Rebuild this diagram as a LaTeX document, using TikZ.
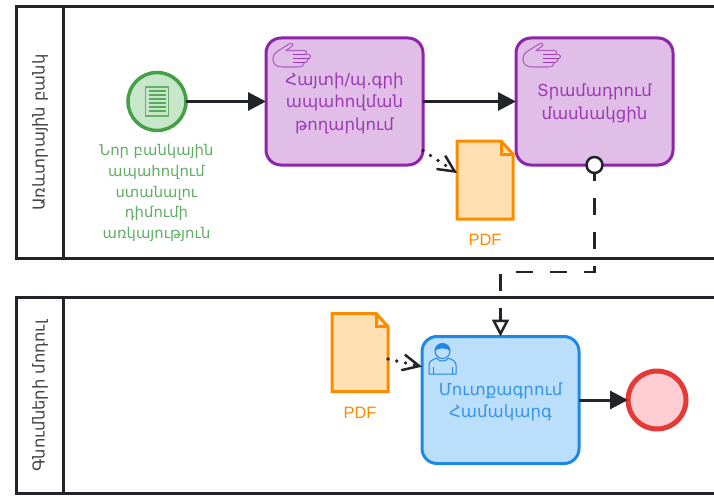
\documentclass[tikz,border=0pt]{standalone}
\usepackage{fontspec}
\setmainfont{DejaVu Sans}
\newfontfamily\latinfont{Liberation Sans}
\usetikzlibrary{arrows.meta}
\newcommand\firstlinegap{\rule{0pt}{16pt}}
\definecolor{ink}{HTML}{22242A}
\definecolor{gstroke}{HTML}{43A047}
\definecolor{gfill}{HTML}{C8E6C9}
\definecolor{pstroke}{HTML}{8E24AA}
\definecolor{pfill}{HTML}{E1BEE7}
\definecolor{bstroke}{HTML}{1E88E5}
\definecolor{bfill}{HTML}{BBDEFB}
\definecolor{ostroke}{HTML}{FB8C00}
\definecolor{ofill}{HTML}{FFE0B2}
\definecolor{rstroke}{HTML}{E53935}
\definecolor{rfill}{HTML}{FFCDD2}
\tikzset{
  lanebox/.style={draw=ink,line width=3pt},
  lanetitle/.style={rotate=90,text=ink!85!white,font=\fontsize{16.4}{18}\selectfont,inner sep=0pt},
  taskbox/.style={rectangle,rounded corners=15pt,line width=3pt,minimum width=157pt,minimum height=127pt,outer sep=0pt,inner sep=0pt,align=center,font=\fontsize{16.6}{22.5}\selectfont},
  purpletask/.style={taskbox,draw=pstroke,fill=pfill,text=pstroke!85!pfill},
  bluetask/.style={taskbox,draw=bstroke,fill=bfill,text=bstroke!85!bfill},
  startev/.style={circle,draw=gstroke,fill=gfill,line width=3.5pt,minimum size=58pt,inner sep=0pt,outer sep=0pt},
  endev/.style={circle,draw=rstroke,fill=rfill,line width=5pt,minimum size=58pt,inner sep=0pt,outer sep=0pt},
  docbox/.style={rectangle,minimum width=56pt,minimum height=78pt,inner sep=0pt,outer sep=0pt},
  docline/.style={draw=ostroke,line width=3pt,line join=miter},
  doclabel/.style={text=ostroke,font=\latinfont\fontsize{16.5}{20}\selectfont,inner sep=0pt},
  startlabel/.style={text=gstroke!85!white,align=center,inner sep=0pt,font=\fontsize{14.8}{20.7}\selectfont},
  seqflow/.style={draw=ink,line width=3pt,-{Triangle[length=18pt,width=18pt]}},
  assocflow/.style={draw=ink,line width=3.6pt,line cap=round,dash pattern=on 0pt off 9pt,-{Straight Barb[length=16.5pt,width=16pt,line width=2.5pt]}},
  msgflow/.style={draw=ink,line width=2.5pt,dash pattern=on 17pt off 17pt,dash phase=1pt,-{Triangle[open,length=17pt,width=17pt,fill=white,line width=2.5pt]}},
  msgdot/.style={circle,draw=ink,fill=white,line width=2.5pt,minimum size=16pt,inner sep=0pt,outer sep=0pt},
  handicon/.pic={
    \draw[draw=pstroke!62!pfill,line width=1.1pt,line join=round]
      (0,16) .. controls (0,12) and (2,10) .. (5,8) -- (16,1)
      .. controls (19,-1) and (22,2) .. (18,4) -- (13,7.5) -- (31,7.5)
      .. controls (34,7.5) and (34,10) .. (33,11)
      .. controls (38,11) and (39,15) .. (35,16)
      .. controls (35,18) and (34,19) .. (31,20)
      .. controls (31,23) and (29,24) .. (24,24) -- (10,24)
      .. controls (3,24) and (0,21) .. (0,16);
    \draw[draw=pstroke!85!pfill,line width=1.2pt]
      (20,11.5) -- (33,11.5) (20,15.5) -- (36,15.5) (20,19.5) -- (32,19.5);
  },
  usericon/.pic={
    \draw[draw=bstroke,line width=1pt] (14,8) circle (7.5);
    \fill[bstroke] (6.5,8) .. controls (6.5,3) and (10,0.5) .. (14,0.5)
      .. controls (18,0.5) and (21.5,3) .. (21.5,8)
      .. controls (19,4.5) and (9,4.5) .. (6.5,8);
    \draw[draw=bstroke,line width=1pt,line join=round]
      (0.5,31) -- (0.5,22) .. controls (0.5,18) and (4,17) .. (8,15)
      .. controls (11,19) and (17,19) .. (20,15)
      .. controls (24,17) and (27.5,18) .. (27.5,22) -- (27.5,31) -- cycle;
    \draw[draw=bstroke,line width=1pt] (4.5,24) -- (4.5,31) (23.5,24) -- (23.5,31);
  },
  msgicon/.pic={
    \draw[draw=gstroke!75!gfill,line width=1.4pt] (-11.5,-14.5) rectangle (11.5,14.5);
    \foreach \yy in {-10.5,-6.5,-2.5,1.5,5.5,9.5}
      \draw[draw=gstroke!85!gfill,line width=1.2pt] (-8.5,\yy) -- (8.5,\yy);
  },
}
\begin{document}
\begin{tikzpicture}[x=1pt,y=-1pt]
\useasboundingbox (0,0) rectangle (714,500);
\fill[white] (0,0) rectangle (714,500);
% lanes
\draw[lanebox] (714,7) -- (16,7) -- (16,258) -- (714,258);
\draw[lanebox] (63,7) -- (63,258);
\draw[lanebox] (714,297) -- (16,297) -- (16,493) -- (714,493);
\draw[lanebox] (63,297) -- (63,493);
\node[lanetitle] (lane1) at (40,132.5) {Առևտրային բանկ};
\node[lanetitle] (lane2) at (40,396) {Գնումների մոդուլ};
% events and tasks
\node[startev] (s) at (157,101.5) {};
\pic at (s.center) {msgicon};
\node[startlabel] (slabel) at (156.5,193) {Նոր բանկային\\ապահովում\\ստանալու\\դիմումի\\առկայություն};
\node[purpletask] (t1) at (344.5,101.5) {\firstlinegap Հայտի/պ.գրի\\ապահովման\\թողարկում};
\pic at (273,43) {handicon};
\node[purpletask] (t2) at (594.5,101.5) {\firstlinegap Տրամադրում\\մասնակցին};
\pic at (523,43) {handicon};
\node[bluetask] (t3) at (500.5,400) {\firstlinegap Մուտքագրում\\Համակարգ};
\pic at (428.5,343) {usericon};
\node[endev] (e) at (657,400) {};
% documents
\node[docbox] (d1) at (485,180) {};
\draw[docline,fill=ofill] (d1.north west) -- ([xshift=-12pt]d1.north east) -- ([yshift=-13pt]d1.north east) -- (d1.south east) -- (d1.south west) -- cycle;
\draw[docline] ([xshift=-12pt]d1.north east) -- ([xshift=-12pt,yshift=-13pt]d1.north east) -- ([yshift=-13pt]d1.north east);
\node[doclabel] (p1) at (485,240) {PDF};
\node[docbox] (d2) at (360,352.5) {};
\draw[docline,fill=ofill] (d2.north west) -- ([xshift=-12pt]d2.north east) -- ([yshift=-13pt]d2.north east) -- (d2.south east) -- (d2.south west) -- cycle;
\draw[docline] ([xshift=-12pt]d2.north east) -- ([xshift=-12pt,yshift=-13pt]d2.north east) -- ([yshift=-13pt]d2.north east);
\node[doclabel] (p2) at (360,413) {PDF};
% connectors
\draw[seqflow] (s.east) -- (t1.west);
\draw[seqflow] (t1.east) -- (t2.west);
\draw[seqflow] (t3.east) -- (e.west);
\draw[assocflow] (t1.-32.7) -- (d1.166);
\coordinate (d2out) at ([yshift=-6.5pt]d2.east);
\draw[assocflow] (d2out) -- (t3.157.2);
\coordinate (bend) at (500.5,272);
\draw[msgflow] (t2.south) |- (bend) -- (t3.north);
\node[msgdot] (m) at (t2.south) {};
\end{tikzpicture}
\end{document}
